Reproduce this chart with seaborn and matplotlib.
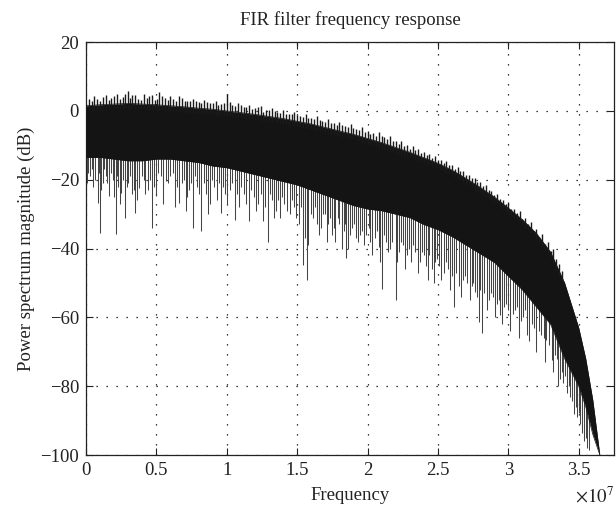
import numpy as np
import pandas as pd
import matplotlib
matplotlib.use("Agg")
import matplotlib.pyplot as plt
import seaborn as sns

# ---------------- data (frequency in units of 1e7 Hz, level in dB) ----------------
env_freq = [0.0, 0.1, 0.2, 0.3, 0.4, 0.5, 0.6, 0.7, 0.8, 0.9, 1.0, 1.1, 1.2, 1.3, 1.4,
            1.5, 1.6, 1.7, 1.8, 1.9, 2.0, 2.1, 2.2, 2.3, 2.4, 2.5, 2.6, 2.7, 2.8, 2.9,
            3.0, 3.1, 3.2, 3.3, 3.4, 3.5, 3.55, 3.6, 3.65]
env_upper = [1.5, 1.8, 2.0, 2.2, 2.0, 1.8, 1.5, 1.2, 0.8, 0.5, 0.0, -0.5, -1.0, -1.6, -2.2,
             -3.0, -3.8, -4.8, -5.8, -6.8, -8.0, -9.2, -10.6, -12.0, -13.6, -15.2, -17.2,
             -19.6, -22.2, -25.0, -28.2, -31.6, -35.6, -41.0, -50.0, -63.0, -72.0, -84.0, -100.0]
env_lower = [-13.5, -13.5, -14.0, -14.5, -14.5, -14.0, -14.0, -14.5, -15.0, -16.0, -16.5,
             -17.5, -18.5, -19.5, -20.5, -21.5, -23.0, -24.5, -26.0, -27.5, -28.5, -29.0,
             -30.0, -31.0, -33.0, -34.5, -36.5, -39.0, -41.5, -44.0, -48.0, -52.0, -57.0,
             -62.0, -72.0, -80.0, -86.0, -94.0, -100.0]

tip_freq = [0.02, 0.06, 0.10, 0.14, 0.18, 0.22, 0.26, 0.30, 0.33, 0.37, 0.41, 0.45, 0.49,
            0.52, 0.56, 0.60, 0.64, 0.68, 0.72, 0.76, 0.80, 0.84, 0.88, 0.92, 0.96, 1.00,
            1.04, 1.08, 1.12, 1.16, 1.20, 1.24, 1.28, 1.32, 1.36, 1.40, 1.44, 1.48, 1.52,
            1.56, 1.60, 1.64, 1.68, 1.72, 1.76, 1.80, 1.84, 1.88, 1.92, 1.96, 2.00, 2.04,
            2.08, 2.12, 2.16, 2.20, 2.24, 2.28, 2.32, 2.36, 2.40, 2.44, 2.48, 2.52, 2.56,
            2.60, 2.64, 2.68, 2.72, 2.76, 2.80, 2.84, 2.88, 2.92, 2.96, 3.00, 3.04, 3.08,
            3.12, 3.16, 3.20, 3.24, 3.28, 3.32,
            0.04, 0.08, 0.12, 0.16, 0.20, 0.24, 0.28, 0.315, 0.35, 0.39, 0.43, 0.47, 0.505,
            0.54, 0.58, 0.62, 0.66, 0.70, 0.74, 0.78, 0.82, 0.86, 0.90, 0.94, 0.98, 1.02,
            1.06, 1.10, 1.14, 1.18, 1.22, 1.26, 1.30, 1.34, 1.38, 1.42, 1.46, 1.50, 1.54,
            1.58, 1.62, 1.66, 1.70, 1.74, 1.78, 1.82, 1.86, 1.90, 1.94, 1.98, 2.02, 2.06,
            2.10, 2.14, 2.18, 2.22, 2.26, 2.30, 2.34, 2.38, 2.42, 2.46, 2.50, 2.54, 2.58,
            2.62, 2.66, 2.70, 2.74, 2.78, 2.82, 2.86, 2.90, 2.94, 2.98, 3.02, 3.06, 3.10,
            3.14, 3.18, 3.22, 3.26, 3.30, 3.34, 3.36, 3.38]
tip_level = [3.5, 4.2, 3.0, 4.6, 3.8, 5.0, 4.0, 5.8, 4.5, 3.6, 5.0, 4.2, 3.2, 5.4, 3.8, 4.4,
             3.0, 3.9, 2.8, 3.5, 2.6, 3.2, 2.2, 2.8, 2.0, 4.8, 1.8, 2.2, 1.2, 1.8, 0.8, 1.4,
             0.2, 0.8, -0.4, 0.2, -0.8, -0.2, -1.4, -1.0, -2.0, -1.6, -2.8, -2.4, -3.4, -3.2,
             -4.4, -3.8, -5.2, -4.8, -5.8, -6.4, -6.0, -7.6, -7.4, -8.8, -8.6, -10.0, -10.2,
             -11.2, -11.8, -12.6, -13.0, -14.2, -14.6, -15.8, -16.4, -17.6, -18.6, -19.4,
             -20.8, -21.6, -23.2, -24.0, -25.8, -26.6, -28.4, -29.2, -31.2, -32.4, -34.2,
             -35.8, -38.0, -40.0,
             2.8, 3.6, 4.0, 3.2, 4.2, 3.4, 4.8, 3.8, 4.6, 3.2, 3.8, 4.6, 3.4, 4.2, 3.2, 3.6,
             4.2, 3.0, 2.8, 3.0, 2.2, 2.6, 2.4, 1.6, 2.4, 2.6, 1.4, 1.6, 1.0, 0.6, 1.0, -0.2,
             0.4, 0.0, -0.6, -0.8, -1.0, -1.2, -1.8, -2.0, -2.4, -2.6, -3.2, -3.6, -4.0, -4.2,
             -4.8, -5.0, -5.6, -6.2, -6.8, -7.2, -7.4, -8.2, -8.8, -9.6, -10.2, -11.0, -11.4,
             -12.2, -12.8, -13.6, -14.2, -15.2, -15.8, -16.8, -17.4, -18.6, -19.6, -20.6,
             -21.8, -23.0, -24.4, -25.6, -27.0, -28.4, -29.8, -31.4, -33.0, -34.8, -36.6,
             -38.6, -40.6, -43.0, -44.5, -46.5]

spike_freq = [0.005, 0.03, 0.05, 0.083, 0.10, 0.12, 0.14, 0.16, 0.19, 0.21, 0.23, 0.25, 0.28,
              0.30, 0.33, 0.35, 0.38, 0.41, 0.44, 0.47, 0.50, 0.53, 0.55, 0.57, 0.60, 0.63,
              0.66, 0.68, 0.71, 0.73, 0.76, 0.79, 0.82, 0.85, 0.88, 0.91, 0.96, 0.99, 1.02,
              1.06, 1.09, 1.12, 1.16, 1.19, 1.22, 1.26, 1.29, 1.32, 1.35, 1.38, 1.41, 1.45,
              1.48, 1.51, 1.54, 1.57, 1.58, 1.61, 1.64, 1.67, 1.70, 1.72, 1.75, 1.77, 1.80,
              1.83, 1.85, 1.86, 1.89, 1.92, 1.93, 1.96, 1.99, 2.02, 2.05, 2.08, 2.105, 2.13,
              2.16, 2.20, 2.22, 2.25, 2.28, 2.31, 2.34, 2.37, 2.40, 2.43, 2.455, 2.48, 2.51,
              2.54, 2.57, 2.60, 2.615, 2.65, 2.68, 2.71, 2.74, 2.76, 2.79, 2.81, 2.83, 2.86,
              2.89, 2.92, 2.94, 2.97, 3.00, 3.03, 3.06, 3.09, 3.12, 3.15, 3.18, 3.22, 3.25,
              3.27, 3.31, 3.33, 3.35, 3.38, 3.40, 3.43, 3.45, 3.48, 3.50, 3.52, 3.55, 3.57,
              0.015, 0.04, 0.065, 0.09, 0.11, 0.13, 0.15, 0.175, 0.20, 0.22, 0.24, 0.265, 0.29,
              0.315, 0.34, 0.365, 0.395, 0.42, 0.455, 0.485, 0.515, 0.545, 0.585, 0.615, 0.645,
              0.695, 0.72, 0.745, 0.775, 0.805, 0.835, 0.865, 0.895, 0.93, 0.945, 0.975, 1.00,
              1.04, 1.075, 1.10, 1.14, 1.175, 1.21, 1.24, 1.275, 1.305, 1.335, 1.365, 1.395,
              1.43, 1.465, 1.495, 1.525, 1.555, 1.595, 1.625, 1.655, 1.685, 1.715, 1.735, 1.76,
              1.79, 1.815, 1.84, 1.875, 1.905, 1.945, 1.975, 2.01, 2.035, 2.065, 2.09, 2.12,
              2.145, 2.175, 2.21, 2.235, 2.265, 2.295, 2.325, 2.355, 2.385, 2.415, 2.44, 2.47,
              2.495, 2.525, 2.555, 2.585, 2.63, 2.665, 2.695, 2.725, 2.75, 2.775, 2.80, 2.845,
              2.875, 2.905, 2.935, 2.955, 2.985, 3.015, 3.045, 3.075, 3.105, 3.135, 3.165,
              3.20, 3.235, 3.26, 3.29, 3.32, 3.345, 3.365, 3.39, 3.415, 3.44, 3.465, 3.49,
              3.51, 3.535, 3.56]
spike_level = [-21, -19, -22, -26.7, -35.4, -21, -19, -24.8, -20, -35.9, -22, -23.8, -31,
               -21, -24, -29.6, -22.4, -20, -23, -34, -24.8, -19, -22, -20.5, -19, -28,
               -26.7, -21, -29, -23, -34, -22, -35, -24, -27, -22, -29.6, -24, -23,
               -31.6, -28, -24, -32, -25, -27, -32, -38, -26, -29, -31, -27, -30,
               -28, -33, -44.7, -49, -39, -31, -33, -34, -30, -33, -36, -38, -33,
               -35, -42.7, -40, -34, -37, -38, -35, -36, -38, -37, -39.5, -51.8, -38,
               -40, -55, -41, -39, -42, -43.9, -41, -44, -42, -49, -46, -44, -45,
               -47, -46, -48, -56.9, -51, -49, -50, -51, -52.6, -61.2, -64.6, -53, -55,
               -54, -56, -59.3, -57, -58, -59, -57, -61, -58, -67, -63, -64, -66,
               -66.6, -72.4, -71, -80, -76, -77, -80, -84.4, -86, -87.8, -93.6, -95, -98.5,
               -18, -17, -20, -18, -23, -17, -21, -18, -25, -19, -27, -20, -22,
               -19, -23, -26, -19, -24, -20, -22, -18, -27, -21, -18, -22,
               -20, -25, -21, -19, -24, -21, -30, -20, -26, -21, -22, -27,
               -21, -24, -22, -27, -23, -29, -24, -28, -24, -31, -26, -25,
               -29, -26, -31, -28, -37, -30, -28, -36, -30, -38, -31, -34,
               -31, -40, -33, -36, -33, -36, -39, -34, -42, -35, -44, -36,
               -41, -38, -44, -38, -46, -40, -39, -47, -41, -45, -42, -50,
               -43, -49, -44, -52, -47, -54, -48, -55, -50, -54, -52, -58,
               -53, -60, -55, -62, -56, -64, -58, -66, -60, -65, -62,
               -70, -65, -73, -68, -76, -72, -78, -79, -82, -83, -88, -89,
               -91, -96, -98]

x_ticks = [0.0, 0.5, 1.0, 1.5, 2.0, 2.5, 3.0, 3.5]
x_tick_labels = ['0', '0.5', '1', '1.5', '2', '2.5', '3', '3.5']
y_ticks = [20, 0, -20, -40, -60, -80, -100]
x_scale = 1e7

# ---------------- figure ----------------
sns.set_style("ticks")
plt.rcParams['font.family'] = ['Liberation Serif', 'DejaVu Serif']
plt.rcParams['mathtext.fontset'] = 'stix'

fig = plt.figure(figsize=(6.16, 5.20), dpi=100)
ax = fig.add_axes([0.1396, 0.125, 0.857, 0.794])

ef = np.array(env_freq) * x_scale
env_df = pd.DataFrame({"freq": np.r_[ef, ef],
                       "level": np.r_[env_upper, env_lower],
                       "edge": ["upper"] * len(ef) + ["lower"] * len(ef)})

ax.fill_between(ef, env_lower, env_upper, color='#141414', lw=0, zorder=3)
sns.lineplot(data=env_df, x="freq", y="level", units="edge", estimator=None,
             color='#141414', lw=0.5, ax=ax, zorder=3, legend=False)

tf = np.array(tip_freq)
ax.vlines(tf * x_scale, np.interp(tf, env_freq, env_upper) - 1.5, tip_level,
          color='#1a1a1a', lw=1.0, zorder=3)
sf = np.array(spike_freq)
ax.vlines(sf * x_scale, spike_level, np.interp(sf, env_freq, env_lower) + 1.5,
          color='#444444', lw=0.75, zorder=2.9)

ax.set_xlim(0, 3.75e7)
ax.set_ylim(-100, 20)
ax.set_xticks([t * x_scale for t in x_ticks])
ax.set_xticklabels(x_tick_labels)
ax.set_yticks(y_ticks)
ax.set_yticklabels([str(v).replace('-', '\u2212') for v in y_ticks])

ax.set_axisbelow(True)
ax.grid(True, color='black', linestyle=(0, (1, 7)), lw=0.9)
ax.tick_params(direction='in', length=5, width=0.8, top=True, right=True,
               labelsize=13.5, colors='#222222', pad=5)
for s in ax.spines.values():
    s.set_visible(True)
    s.set_linewidth(0.9)
    s.set_color('#222222')

ax.set_title("FIR filter frequency response", fontsize=13.5, pad=12, color='#222222')
ax.set_xlabel("Frequency", fontsize=13.5, labelpad=6, color='#222222')
ax.set_ylabel("Power spectrum magnitude (dB)", fontsize=13.5, labelpad=4, color='#222222')
ax.text(1.0, -0.075, r"$\times10^{7}$", transform=ax.transAxes, ha='right', va='top',
        fontsize=13.5, color='#222222')

fig.savefig("out.png", dpi=100, facecolor='white')
